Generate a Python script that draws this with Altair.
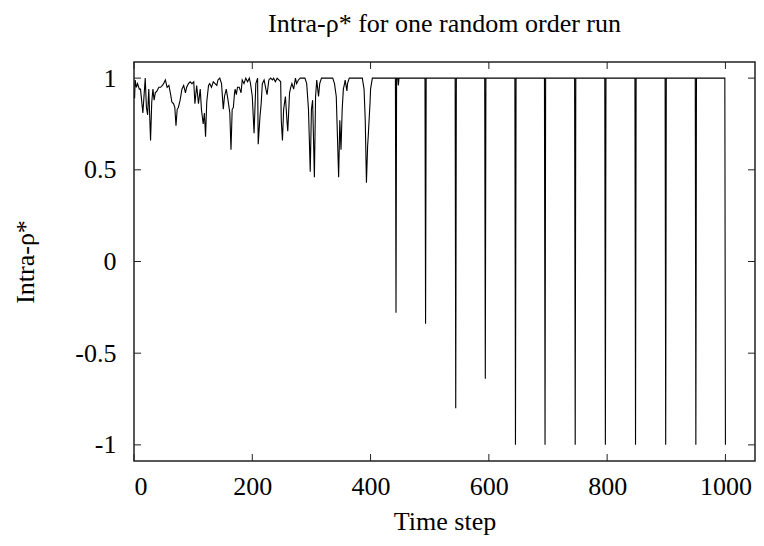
import altair as alt
import pandas as pd

# ---- data ----
noisy_t = [1, 2, 4, 6, 9, 11, 15, 19, 21, 23, 25, 28, 30, 32, 34, 36, 39, 42, 45, 48,
           50, 53, 56, 59, 62, 64, 67, 69, 71, 73, 75, 78, 81, 84, 87, 89, 92, 95, 98, 101,
           103, 106, 109, 112, 114, 117, 119, 121, 123, 126, 128, 131, 134, 137, 140, 142, 145, 148, 151, 153,
           156, 159, 162, 164, 166, 168, 170, 171, 173, 175, 178, 181, 183, 186, 189, 192, 195, 197, 200, 203,
           206, 209, 210, 213, 215, 217, 220, 223, 225, 228, 231, 234, 236, 239, 242, 245, 248, 249, 251, 253,
           256, 259, 260, 263, 265, 267, 270, 273, 275, 278, 281, 287, 289, 292, 295, 298, 300, 302, 305, 307,
           309, 312, 314, 317, 336, 339, 342, 344, 346, 348, 350, 352, 354, 356, 357, 360, 361, 364, 386, 389,
           391, 393, 395, 396, 399, 400, 403]
noisy_v = [0.89, 0.99, 0.95, 0.97, 0.94, 0.94, 0.81, 1.00, 0.84, 0.80, 0.94, 0.66, 0.87, 0.94, 0.88, 0.92, 0.93, 0.95, 0.95, 0.96,
           0.97, 0.99, 0.95, 0.96, 0.91, 0.87, 0.86, 0.84, 0.74, 0.83, 0.84, 0.88, 0.94, 0.96, 0.92, 0.95, 0.97, 0.98, 0.97, 0.98,
           0.86, 0.96, 0.86, 0.94, 0.83, 0.75, 0.81, 0.68, 0.87, 0.96, 0.97, 0.95, 0.98, 0.97, 0.96, 0.99, 1.00, 0.97, 0.83, 0.90,
           0.94, 0.88, 0.81, 0.61, 0.83, 0.84, 0.92, 0.94, 0.91, 0.95, 0.95, 0.92, 0.99, 0.97, 1.00, 0.98, 1.00, 0.97, 0.90, 0.70,
           0.97, 1.00, 0.64, 0.79, 0.86, 0.97, 0.99, 0.94, 0.91, 0.99, 1.00, 0.99, 1.00, 0.98, 1.00, 0.99, 0.98, 0.77, 0.66, 0.83,
           0.90, 0.75, 0.71, 0.92, 0.95, 0.97, 0.94, 1.00, 0.97, 0.99, 1.00, 1.00, 1.00, 0.97, 0.83, 0.49, 0.83, 0.88, 0.46, 0.90,
           0.99, 0.90, 0.97, 1.00, 1.00, 0.97, 0.90, 0.68, 0.46, 0.77, 0.61, 0.83, 0.94, 0.97, 0.99, 0.93, 0.97, 1.00, 1.00, 0.94,
           0.77, 0.43, 0.63, 0.68, 0.86, 0.94, 1.00]

regular_t = [442, 443, 444, 446, 447, 448, 492, 493, 494, 543, 544, 545, 593, 594, 595,
             644, 645, 646, 694, 695, 696, 745, 746, 747, 796, 797, 798, 847, 848, 849,
             898, 899, 900, 949, 950, 951, 999, 1000]
regular_v = [1.00, -0.28, 1.00, 1.00, 0.96, 1.00, 1.00, -0.34, 1.00, 1.00, -0.80, 1.00, 1.00, -0.64, 1.00,
             1.00, -1.00, 1.00, 1.00, -1.00, 1.00, 1.00, -1.00, 1.00, 1.00, -1.00, 1.00, 1.00, -1.00, 1.00,
             1.00, -1.00, 1.00, 1.00, -1.00, 1.00, 1.00, -1.00]

x_ticks = [0, 200, 400, 600, 800, 1000]
y_ticks = [-1, -0.5, 0, 0.5, 1]

X_DOMAIN = [0, 1050]
Y_DOMAIN = [-1.088, 1.088]
W, H = 621, 399
TICK = 7
FONT = "Liberation Serif"
FS = 26

series = pd.DataFrame({"t": noisy_t + regular_t, "v": noisy_v + regular_v})
xt = pd.DataFrame({"x": x_ticks})
yt = pd.DataFrame({"y": y_ticks})

xscale = alt.Scale(domain=X_DOMAIN, nice=False, zero=False)
yscale = alt.Scale(domain=Y_DOMAIN, nice=False, zero=False)

axis_text = dict(labelFont=FONT, labelFontSize=FS, labelColor="black",
                 titleFont=FONT, titleFontSize=FS, titleFontWeight="normal", titleColor="black",
                 ticks=False, tickSize=0, domain=False, grid=False)

line = alt.Chart(series).mark_line(color="black", strokeWidth=1.1, clip=True).encode(
    x=alt.X("t:Q", scale=xscale,
            axis=alt.Axis(title="Time step", values=x_ticks, labelExpr="'' + datum.value",
                          labelPadding=12, titlePadding=9, **axis_text)),
    y=alt.Y("v:Q", scale=yscale,
            axis=alt.Axis(title="Intra-ρ*", values=y_ticks, labelExpr="'' + datum.value",
                          labelPadding=18, titlePadding=36, **axis_text)),
    order="t:Q",
)

tick_style = dict(color="#222222", strokeWidth=1)
xb = alt.Chart(xt).mark_rule(**tick_style).encode(x=alt.X("x:Q", scale=xscale), y=alt.value(H), y2=alt.value(H - TICK))
xtop = alt.Chart(xt).mark_rule(**tick_style).encode(x=alt.X("x:Q", scale=xscale), y=alt.value(0), y2=alt.value(TICK))
yl = alt.Chart(yt).mark_rule(**tick_style).encode(y=alt.Y("y:Q", scale=yscale), x=alt.value(0), x2=alt.value(TICK))
yr = alt.Chart(yt).mark_rule(**tick_style).encode(y=alt.Y("y:Q", scale=yscale), x=alt.value(W - TICK), x2=alt.value(W))

chart = alt.layer(line, xb, xtop, yl, yr).properties(
    width=W, height=H,
    title=alt.TitleParams("Intra-ρ*  for one random order run", font=FONT, fontSize=FS,
                          fontWeight="normal", color="black", anchor="middle", offset=25),
    autosize=alt.AutoSizeParams(type="none"),
    padding={"left": 126, "top": 54, "right": 1, "bottom": 77},
    background="white",
).configure_view(stroke="#222222", strokeWidth=1.5).configure_title(font=FONT)

chart.save("out.html", embed_options={"renderer": "svg", "actions": False})
